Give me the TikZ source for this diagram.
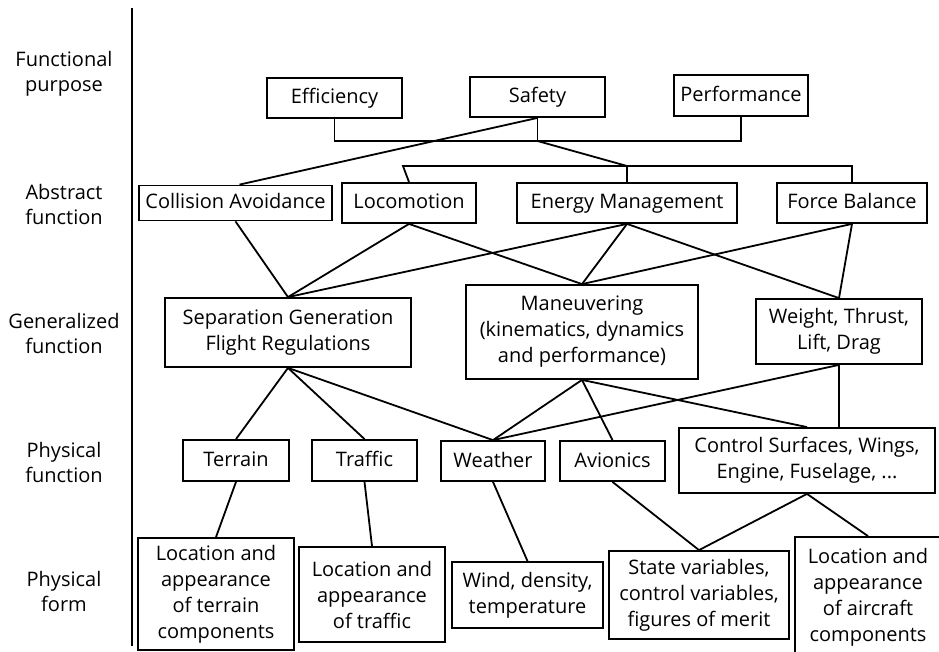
\documentclass[tikz,border=0pt]{standalone}
\usepackage{fontspec}
\setmainfont{Open Sans}
\begin{document}
\begin{tikzpicture}[x=1pt,y=-1pt,
  box/.style={draw, line width=1.8pt, align=center, inner sep=0pt,
    font=\fontsize{20}{26}\selectfont},
  one/.style={text height=16pt, text depth=4pt},
  sz/.style 2 args={minimum width=#1, minimum height=#2},
  lvl/.style={align=center, font=\fontsize{20}{25}\selectfont},
  link/.style={line width=1.8pt}]
\useasboundingbox (0,0) rectangle (939,652);

% level labels and separator
\node[lvl] (l1) at (64,74)  {Functional\\purpose};
\node[lvl] (l2) at (64,205) {Abstract\\function};
\node[lvl] (l3) at (64,333) {Generalized\\function};
\node[lvl] (l4) at (64,462) {Physical\\function};
\node[lvl] (l5) at (64,591) {Physical\\form};
\coordinate (sepTop) at (132,8);
\coordinate (sepBot) at (132,646);
\draw[link] (sepTop) -- (sepBot);

% functional purpose
\node[box, one, sz={135}{40}] (eff)  at (334.5,98) {Efficiency};
\node[box, one, sz={135}{40}] (safe) at (537.5,97) {Safety};
\node[box, one, sz={134}{41}] (perf) at (741,95.5) {Performance};

% abstract function
\node[box, one, sz={193}{35}] (coll)   at (235.5,203) {Collision Avoidance};
\node[box, one, sz={134}{40}] (loco)   at (409,203)   {Locomotion};
\node[box, one, sz={220}{40}] (energy) at (627,203)   {Energy Management};
\node[box, one, sz={150}{40}] (force)  at (852,203)   {Force Balance};

% generalized function
\node[box, sz={246}{69}] (sepgen) at (288,332.5) {Separation Generation\\Flight Regulations};
\node[box, sz={232}{94}] (man)    at (582,332)   {Maneuvering\\(kinematics, dynamics\\and performance)};
\node[box, sz={166}{65}] (wtld)   at (839,331.5) {Weight, Thrust,\\Lift, Drag};

% physical function
\node[box, one, sz={106}{41}] (terr)  at (236,460.5) {Terrain};
\node[box, one, sz={105}{41}] (traf)  at (364.5,460.5) {Traffic};
\node[box, one, sz={104}{40}] (wea)   at (493,461) {Weather};
\node[box, one, sz={105}{40}] (avio)  at (612.5,461) {Avionics};
\node[box, sz={256}{65}] (ctrl)  at (807,460.5) {Control Surfaces, Wings,\\Engine, Fuselage, ...};

% physical form
\node[box, sz={156}{112}] (fterr) at (216,594) {Location and\\appearance\\of terrain\\components};
\node[box, sz={146}{95}]  (ftraf) at (372,594.5) {Location and\\appearance\\of traffic};
\node[box, sz={151}{66}]  (fwind) at (527.5,595) {Wind, density,\\temperature};
\node[box, sz={180}{88}]  (fstate) at (699,595) {State variables,\\control variables,\\figures of merit};
\node[box, sz={146}{120}] (fair)  at (868,597) {Location and\\appearance\\of aircraft\\components};

% purpose bracket
\coordinate (fpbar) at (537.5,141);
\draw[link] (eff.south) -- (eff.south |- fpbar) -- (perf.south |- fpbar) -- (perf.south);
\draw[link] (safe.south) -- (fpbar);
\draw[link] (safe.south) -- ([xshift=4pt]coll.north);

% abstract bracket
\coordinate (afbar) at (627,166);
\coordinate (afleft) at (403,166);
\draw[link] (loco.north) -- (afleft) -- (force.north |- afbar) -- (force.north);
\draw[link] (fpbar) -- (afbar) -- (energy.north);

% abstract -> generalized
\draw[link] (coll.south) -- (sepgen.north);
\draw[link] (loco.south) -- (sepgen.north);
\draw[link] (energy.south) -- (sepgen.north);
\draw[link] (loco.south) -- (man.north);
\draw[link] (energy.south) -- (man.north);
\draw[link] (force.south) -- (man.north);
\draw[link] (energy.south) -- (wtld.north);
\draw[link] (force.south) -- (wtld.north);

% generalized -> physical function
\draw[link] (sepgen.south) -- (terr.north);
\draw[link] (sepgen.south) -- (traf.north);
\draw[link] (sepgen.south) -- (wea.north);
\draw[link] (man.south) -- (wea.north);
\draw[link] (man.south) -- (avio.north);
\draw[link] (man.south) -- (ctrl.north);
\draw[link] (wtld.south) -- (wea.north);
\draw[link] (wtld.south) -- (wtld.south |- ctrl.north);

% physical function -> physical form
\draw[link] (terr.south) -- (fterr.north);
\draw[link] (traf.south) -- (ftraf.north);
\draw[link] (wea.south) -- (fwind.north);
\draw[link] (avio.south) -- (fstate.north);
\draw[link] (ctrl.south) -- (fstate.north);
\draw[link] (ctrl.south) -- (fair.north);
\end{tikzpicture}
\end{document}
